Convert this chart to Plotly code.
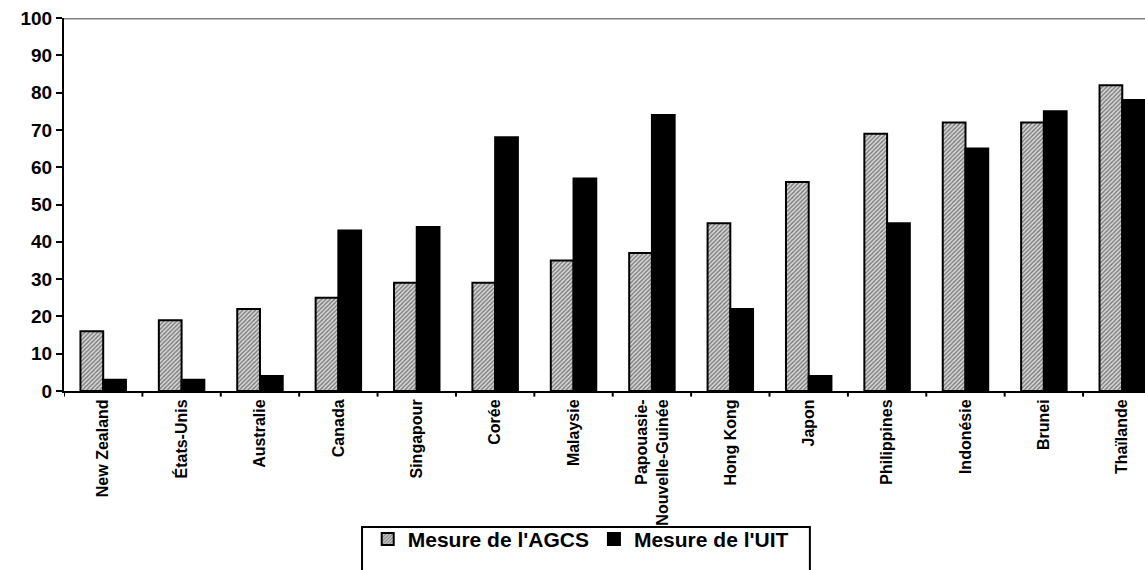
import plotly.graph_objects as go

pays = ["New Zealand", "États-Unis", "Australie", "Canada", "Singapour", "Corée",
        "Malaysie", "Papouasie-<br>Nouvelle-Guinée", "Hong Kong", "Japon",
        "Philippines", "Indonésie", "Brunei", "Thaïlande"]
mesure_agcs = [16, 19, 22, 25, 29, 29, 35, 37, 45, 56, 69, 72, 72, 82]
mesure_uit = [3, 3, 4, 43, 44, 68, 57, 74, 22, 4, 45, 65, 75, 78]
y_ticks = [0, 10, 20, 30, 40, 50, 60, 70, 80, 90, 100]

FONT = "Liberation Sans"

fig = go.Figure()
fig.add_trace(go.Bar(
    x=list(range(len(pays))), y=mesure_agcs, name="Mesure de l'AGCS",
    marker=dict(color="#9a9a9a",
                line=dict(color="black", width=2),
                pattern=dict(shape="/", fgcolor="#1a1a1a", bgcolor="#d8d8d8",
                             size=3, solidity=0.45)),
))
fig.add_trace(go.Bar(
    x=list(range(len(pays))), y=mesure_uit, name="Mesure de l'UIT",
    marker=dict(color="black", line=dict(color="black", width=2)),
))

fig.update_layout(
    width=1145, height=570,
    margin=dict(l=64, r=0, t=18, b=179, autoexpand=False),
    paper_bgcolor="white", plot_bgcolor="white",
    barmode="group", bargap=0.42, bargroupgap=0,
    font=dict(family=FONT, color="black", weight="bold"),
    showlegend=True,
    legend=dict(orientation="h", x=0.478, xanchor="center", y=-0.343, yanchor="top",
                borderwidth=0, bgcolor="rgba(0,0,0,0)",
                font=dict(size=21, family=FONT, color="black", weight="bold"),
                itemwidth=30, tracegroupgap=0, traceorder="normal"),
)

fig.update_xaxes(
    type="linear", automargin=False,
    tickmode="array", tickvals=list(range(len(pays))), ticktext=pays,
    range=[-0.5, 13.29],
    tickangle=-90, tickfont=dict(size=16, family=FONT, color="black", weight="bold"),
    showline=True, linecolor="black", linewidth=2,
    ticks="", showgrid=False, zeroline=False,
)
# boundary tick marks between country groups
for k in range(len(pays) + 1):
    fig.add_shape(type="line", xref="x", yref="paper",
                  x0=k - 0.5, x1=k - 0.5, y0=0, y1=-0.015,
                  line=dict(color="black", width=2))

fig.update_yaxes(
    range=[0, 100], tickmode="array", tickvals=y_ticks, automargin=False,
    tickfont=dict(size=19, family=FONT, color="black", weight="bold"),
    showline=True, linecolor="black", linewidth=2,
    ticks="outside", ticklen=6, tickwidth=2, tickcolor="black",
    showgrid=False, zeroline=False,
)

# grey frame line along the top of the plot area
fig.add_shape(type="line", xref="paper", yref="y", x0=0, x1=1, y0=100, y1=100,
              line=dict(color="#808080", width=3))

# legend frame, running off the bottom edge of the page
fig.add_shape(type="rect", xref="paper", yref="paper",
              x0=0.2757, x1=0.690, y0=-0.3646, y1=-0.50,
              line=dict(color="black", width=2), fillcolor="rgba(0,0,0,0)")

fig.write_html("out.html")
